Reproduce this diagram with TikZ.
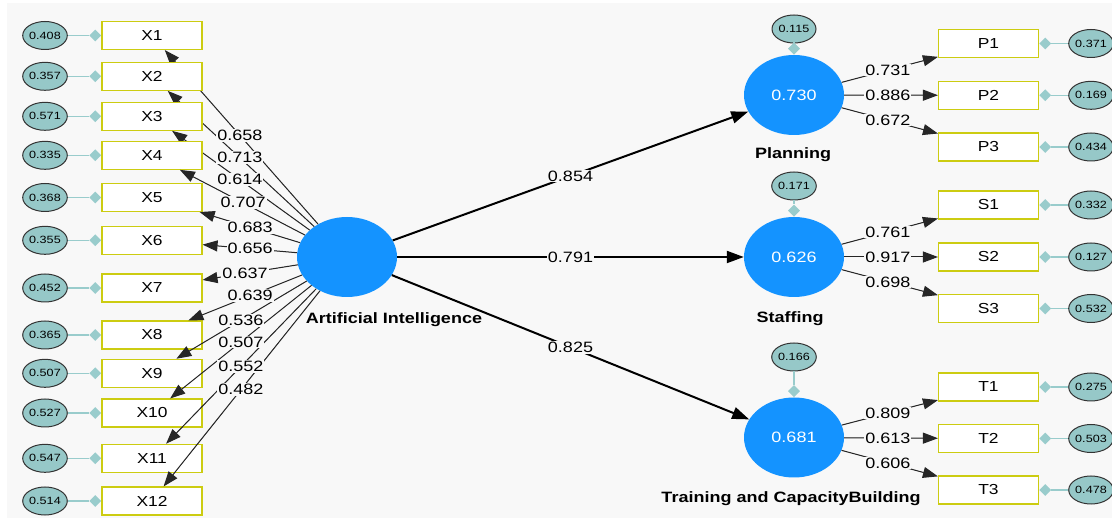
\documentclass[tikz,border=0pt]{standalone}
\usepackage{fontspec}
\setmainfont{Liberation Sans}
\usepackage{graphicx}
\usetikzlibrary{shapes.geometric,arrows.meta,calc}
\definecolor{bg}{HTML}{F8F8F8}
\definecolor{lv}{HTML}{1493FF}
\definecolor{errfill}{HTML}{96C8C8}
\definecolor{errline}{HTML}{99CCCC}
\definecolor{boxc}{HTML}{CCCC11}
\newcommand{\hs}[1]{\scalebox{1.2}[1]{#1}}
\begin{document}
\begin{tikzpicture}[x=1pt,y=-1pt,
  ind/.style={draw=boxc, line width=1.1pt, fill=white, minimum width=100pt, minimum height=28pt, inner sep=0pt, font=\fontsize{14.5}{14.5}\selectfont},
  errnode/.style={ellipse, draw=black!80, line width=1pt, fill=errfill, minimum width=44pt, minimum height=28pt, inner sep=0pt, font=\fontsize{10.5}{10.5}\selectfont},
  lat/.style={ellipse, fill=lv, minimum width=100pt, minimum height=80pt, inner sep=0pt, text=white, font=\fontsize{15}{15}\selectfont},
  dia/.style={diamond, aspect=1, fill=errline, minimum size=12pt, inner sep=0pt},
  errl/.style={draw=errline, line width=1.5pt},
  ld/.style={-{Triangle[length=15pt 0,width=11pt 0]}, line width=1pt, draw=black!85, fill=black},
  st/.style={-{Triangle[length=17pt 0,width=12pt 0]}, line width=2pt},
  lbl/.style={fill=bg, inner sep=1pt, font=\fontsize{15}{15}\selectfont},
  nm/.style={font=\bfseries\fontsize{15}{15}\selectfont}]
\useasboundingbox (0,0) rectangle (1112,518);
\fill[bg] (7,3) rectangle (1112,518);

% latent variables
\node[lat] (AI) at (347,257) {};
\node[nm] (AIn) at (394,320) {\hs{Artificial Intelligence}};
\node[lat] (P) at (794,95) {\hs{0.730}};
\node[nm] (Pn) at (793,155) {\hs{Planning}};
\node[lat] (S) at (794,257) {\hs{0.626}};
\node[nm] (Sn) at (790,319) {\hs{Staffing}};
\node[lat] (T) at (794,437.5) {\hs{0.681}};
\node[nm] (Tn) at (791,499) {\hs{Training and CapacityBuilding}};

% R2 error terms of endogenous latents
\foreach \L/\y/\e in {P/29/0.115, S/186/0.171, T/357/0.166}{
  \node[errnode] (e\L) at (794,\y) {\hs{\e}};
  \node[dia, anchor=south] (d\L) at (\L.north) {};
  \draw[errl] (e\L) -- (d\L);
}

% X indicators
\foreach \i/\y/\e in {1/35.5/0.408, 2/76.3/0.357, 3/116.3/0.571, 4/155.3/0.335, 5/197.5/0.368, 6/240.3/0.355, 7/288/0.452, 8/335/0.365, 9/373.3/0.507, 10/413/0.527, 11/458.3/0.547, 12/501/0.514}{
  \node[ind] (X\i) at (152,\y) {\hs{X\i}};
  \node[dia, anchor=east] (dX\i) at (X\i.west) {};
  \node[errnode] (eX\i) at (45,\y) {\hs{\e}};
  \draw[errl] (eX\i) -- (dX\i);
  \draw[ld] (AI) -- (X\i);
}

% right indicators
\foreach \L/\i/\y/\e in {P/1/43.5/0.371, P/2/95.3/0.169, P/3/147/0.434, S/1/205/0.332, S/2/257/0.127, S/3/308.5/0.532, T/1/387/0.275, T/2/438.5/0.503, T/3/490/0.478}{
  \node[ind] (\L\i) at (988.5,\y) {\hs{\L\i}};
  \node[dia, anchor=west] (d\L\i) at (\L\i.east) {};
  \node[errnode] (e\L\i) at (1091,\y) {\hs{\e}};
  \draw[errl] (e\L\i) -- (d\L\i);
  \draw[ld] (\L) -- (\L\i);
}

% structural paths
\draw[st] (AI) -- (P);
\draw[st] (AI) -- (S);
\draw[st] (AI) -- (T);
\path (AI.center) -- (P.center) node[lbl, pos=0.5] {\hs{0.854}};
\path (AI.center) -- (S.center) node[lbl, pos=0.5] {\hs{0.791}};
\path (AI.center) -- (T.center) node[lbl, pos=0.5] {\hs{0.825}};

% loading labels, left
\foreach \i/\t/\v in {1/0.549/0.658, 2/0.549/0.713, 3/0.549/0.614, 4/0.533/0.707, 5/0.497/0.683, 6/0.497/0.656, 7/0.523/0.637, 8/0.497/0.639, 9/0.544/0.536, 10/0.544/0.507, 11/0.544/0.552, 12/0.544/0.482}{
  \path (AI.center) -- (X\i.center) node[lbl, pos=\t] {\hs{\v}};
}
% loading labels, right
\foreach \L/\i/\v in {P/1/0.731, P/2/0.886, P/3/0.672, S/1/0.761, S/2/0.917, S/3/0.698, T/1/0.809, T/2/0.613, T/3/0.606}{
  \path (\L.center) -- (\L\i.center) node[lbl, pos=0.483] {\hs{\v}};
}
\end{tikzpicture}
\end{document}
